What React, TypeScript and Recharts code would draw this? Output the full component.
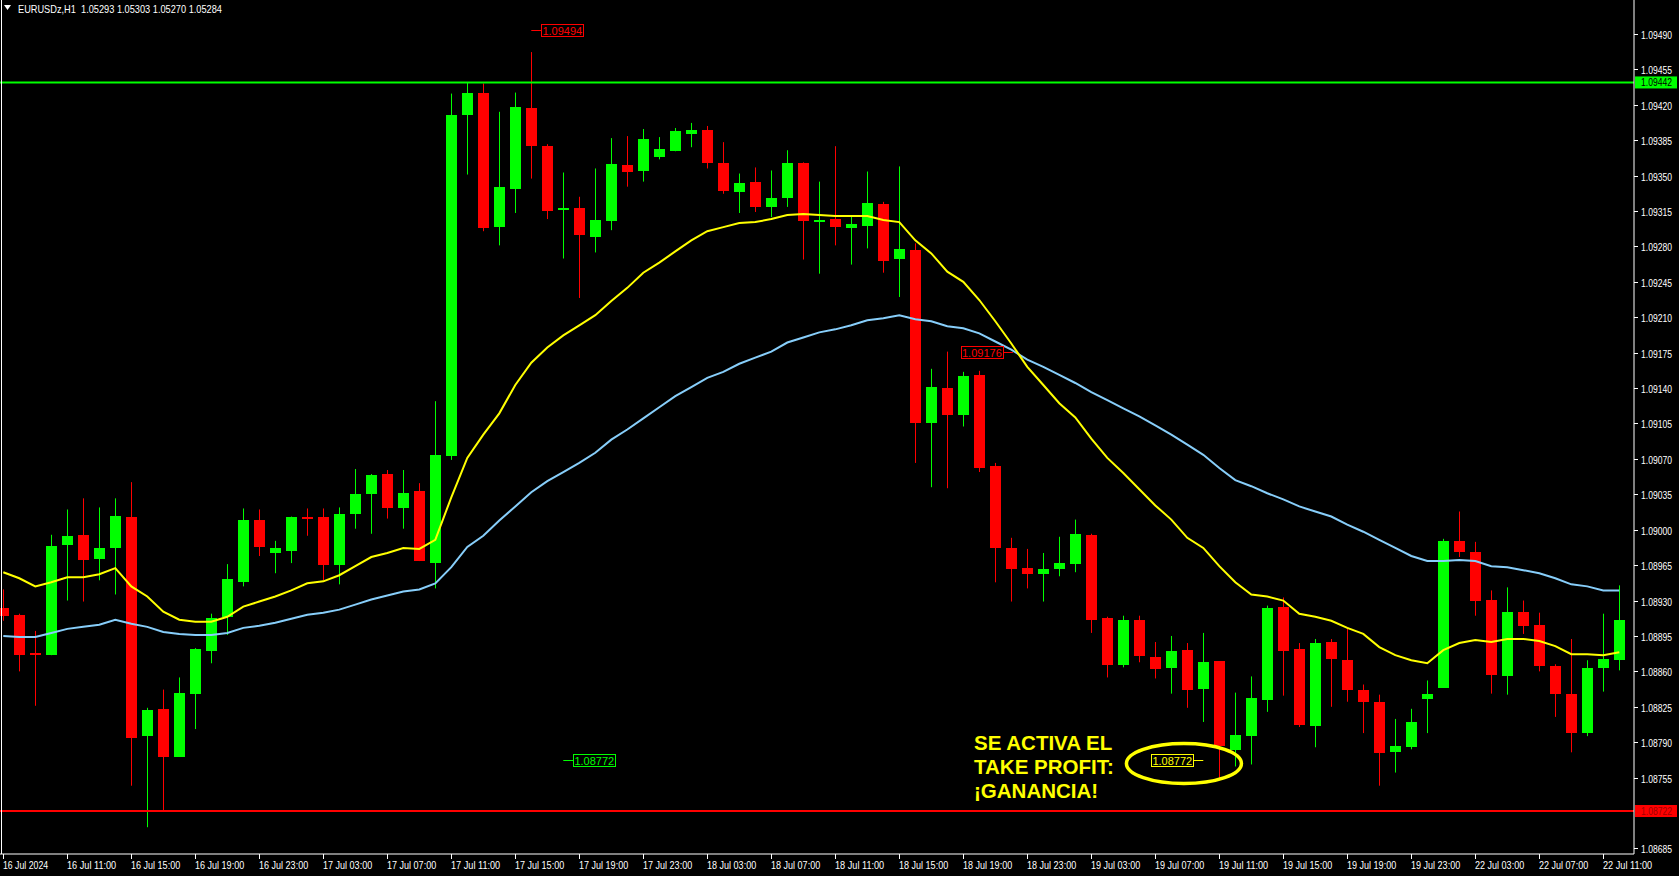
import React from 'react';
import {
  ComposedChart, Bar, Line, XAxis, YAxis, ReferenceLine, ReferenceDot,
} from 'recharts';

const W = 1679;
const H = 876;

// EURUSDz H1, one candle per hour from 16 Jul 07:00 to 22 Jul 12:00
const OPEN = [
  1.08923, 1.08916, 1.08878, 1.08876, 1.08985, 1.08995, 1.08971, 1.08982, 1.09013, 1.08796,
  1.08823, 1.08776, 1.08838, 1.08880, 1.08913, 1.08949, 1.09010, 1.08977, 1.08979, 1.09013,
  1.09013, 1.08966, 1.09015, 1.09035, 1.09055, 1.09021, 1.09038, 1.08967, 1.09073, 1.09410,
  1.09432, 1.09299, 1.09337, 1.09417, 1.09379, 1.09316, 1.09318, 1.09289, 1.09305, 1.09360,
  1.09354, 1.09368, 1.09374, 1.09391, 1.09395, 1.09362, 1.09334, 1.09344, 1.09319, 1.09327,
  1.09362, 1.09304, 1.09307, 1.09298, 1.09300, 1.09322, 1.09267, 1.09276, 1.09105, 1.09140,
  1.09113, 1.09153, 1.09063, 1.08982, 1.08962, 1.08956, 1.08961, 1.08966, 1.08995, 1.08913,
  1.08867, 1.08911, 1.08874, 1.08863, 1.08881, 1.08842, 1.08870, 1.08782, 1.08796, 1.08832,
  1.08924, 1.08882, 1.08806, 1.08889, 1.08871, 1.08842, 1.08830, 1.08780, 1.08785, 1.08833,
  1.08844, 1.08989, 1.08978, 1.08931, 1.08856, 1.08919, 1.08906, 1.08865, 1.08838, 1.08799,
  1.08863, 1.08871,
];
const HIGH = [
  1.08941, 1.08917, 1.08900, 1.08995, 1.09020, 1.09031, 1.09022, 1.09031, 1.09047, 1.08824,
  1.08842, 1.08854, 1.08883, 1.08917, 1.08966, 1.09021, 1.09020, 1.08989, 1.09013, 1.09021,
  1.09021, 1.09022, 1.09060, 1.09055, 1.09059, 1.09059, 1.09046, 1.09127, 1.09431, 1.09442,
  1.09441, 1.09413, 1.09432, 1.09472, 1.09381, 1.09353, 1.09329, 1.09357, 1.09387, 1.09389,
  1.09396, 1.09388, 1.09397, 1.09402, 1.09399, 1.09383, 1.09352, 1.09358, 1.09355, 1.09375,
  1.09363, 1.09344, 1.09379, 1.09309, 1.09354, 1.09324, 1.09359, 1.09283, 1.09159, 1.09176,
  1.09156, 1.09157, 1.09066, 1.08992, 1.08981, 1.08977, 1.08993, 1.09010, 1.08996, 1.08914,
  1.08915, 1.08915, 1.08889, 1.08895, 1.08888, 1.08898, 1.08870, 1.08839, 1.08855, 1.08925,
  1.08933, 1.08888, 1.08892, 1.08892, 1.08902, 1.08847, 1.08837, 1.08813, 1.08823, 1.08851,
  1.08991, 1.09018, 1.08988, 1.08940, 1.08943, 1.08930, 1.08918, 1.08867, 1.08892, 1.08871,
  1.08917, 1.08945,
];
const LOW = [
  1.08910, 1.08860, 1.08826, 1.08876, 1.08930, 1.08929, 1.08950, 1.08936, 1.08747, 1.08706,
  1.08721, 1.08776, 1.08803, 1.08868, 1.08896, 1.08944, 1.08974, 1.08957, 1.08967, 1.08994,
  1.08950, 1.08946, 1.09001, 1.08996, 1.09011, 1.09001, 1.08969, 1.08942, 1.09069, 1.09351,
  1.09295, 1.09281, 1.09313, 1.09347, 1.09307, 1.09268, 1.09229, 1.09274, 1.09296, 1.09339,
  1.09344, 1.09366, 1.09374, 1.09378, 1.09357, 1.09332, 1.09313, 1.09314, 1.09309, 1.09319,
  1.09267, 1.09253, 1.09281, 1.09262, 1.09278, 1.09254, 1.09230, 1.09066, 1.09042, 1.09041,
  1.09102, 1.09057, 1.08948, 1.08929, 1.08942, 1.08929, 1.08954, 1.08958, 1.08898, 1.08854,
  1.08864, 1.08869, 1.08853, 1.08838, 1.08824, 1.08810, 1.08754, 1.08766, 1.08768, 1.08820,
  1.08836, 1.08805, 1.08785, 1.08825, 1.08830, 1.08799, 1.08747, 1.08760, 1.08783, 1.08799,
  1.08844, 1.08973, 1.08915, 1.08838, 1.08837, 1.08897, 1.08860, 1.08815, 1.08780, 1.08796,
  1.08840, 1.08861,
];
const CLOSE = [
  1.08915, 1.08876, 1.08876, 1.08984, 1.08994, 1.08970, 1.08982, 1.09014, 1.08795, 1.08822,
  1.08776, 1.08839, 1.08882, 1.08913, 1.08951, 1.09010, 1.08983, 1.08982, 1.09013, 1.09011,
  1.08966, 1.09016, 1.09035, 1.09054, 1.09021, 1.09036, 1.08969, 1.09074, 1.09410, 1.09432,
  1.09299, 1.09339, 1.09418, 1.09379, 1.09315, 1.09318, 1.09291, 1.09306, 1.09361, 1.09353,
  1.09386, 1.09376, 1.09394, 1.09395, 1.09362, 1.09334, 1.09343, 1.09319, 1.09328, 1.09362,
  1.09305, 1.09306, 1.09299, 1.09302, 1.09323, 1.09266, 1.09277, 1.09105, 1.09141, 1.09113,
  1.09152, 1.09061, 1.08982, 1.08961, 1.08956, 1.08961, 1.08967, 1.08996, 1.08911, 1.08867,
  1.08911, 1.08875, 1.08862, 1.08880, 1.08841, 1.08869, 1.08786, 1.08797, 1.08834, 1.08923,
  1.08881, 1.08807, 1.08888, 1.08872, 1.08841, 1.08830, 1.08780, 1.08786, 1.08810, 1.08838,
  1.08989, 1.08978, 1.08930, 1.08857, 1.08919, 1.08905, 1.08865, 1.08837, 1.08799, 1.08863,
  1.08872, 1.08911,
];

// moving averages (yellow = fast, light blue = slow)
const MA_FAST = [
  1.08958, 1.08952, 1.08944, 1.08948, 1.08953, 1.08953, 1.08956, 1.08962, 1.08944, 1.08934,
  1.08919, 1.08911, 1.08909, 1.08909, 1.08914, 1.08924, 1.08929, 1.08934, 1.08940, 1.08947,
  1.08949, 1.08955, 1.08964, 1.08973, 1.08977, 1.08982, 1.08981, 1.08990, 1.09032, 1.09071,
  1.09094, 1.09115, 1.09143, 1.09165, 1.09180, 1.09192, 1.09202, 1.09212, 1.09226, 1.09239,
  1.09254, 1.09264, 1.09275, 1.09286, 1.09295, 1.09299, 1.09303, 1.09304, 1.09307, 1.09311,
  1.09312, 1.09311, 1.09310, 1.09310, 1.09310, 1.09306, 1.09304, 1.09286, 1.09273, 1.09255,
  1.09245, 1.09227, 1.09206, 1.09184, 1.09161, 1.09143, 1.09125, 1.09111, 1.09090, 1.09071,
  1.09056, 1.09040, 1.09024, 1.09010, 1.08992, 1.08982, 1.08964, 1.08948, 1.08936, 1.08934,
  1.08930, 1.08917, 1.08914, 1.08910, 1.08903, 1.08897, 1.08884, 1.08876, 1.08871, 1.08868,
  1.08881, 1.08888, 1.08891, 1.08889, 1.08892, 1.08892, 1.08890, 1.08885, 1.08877, 1.08877,
  1.08876, 1.08879,
];
const MA_SLOW = [
  1.08895, 1.08894, 1.08894, 1.08898, 1.08902, 1.08904, 1.08906, 1.08911, 1.08907, 1.08904,
  1.08899, 1.08897, 1.08896, 1.08896, 1.08898, 1.08903, 1.08905, 1.08908, 1.08912, 1.08916,
  1.08918, 1.08921, 1.08926, 1.08931, 1.08935, 1.08939, 1.08941, 1.08947, 1.08963, 1.08983,
  1.08994, 1.09009, 1.09023, 1.09037, 1.09048, 1.09057, 1.09066, 1.09076, 1.09089, 1.09099,
  1.09110, 1.09121, 1.09132, 1.09141, 1.09150, 1.09156, 1.09164, 1.09170, 1.09176, 1.09185,
  1.09190, 1.09195, 1.09198, 1.09202, 1.09207, 1.09209, 1.09212, 1.09208, 1.09206, 1.09201,
  1.09199, 1.09194, 1.09186, 1.09178, 1.09168, 1.09161, 1.09153, 1.09145, 1.09136, 1.09128,
  1.09120, 1.09112, 1.09103, 1.09094, 1.09084, 1.09074, 1.09061, 1.09049, 1.09043, 1.09036,
  1.09030, 1.09023, 1.09018, 1.09013, 1.09005, 1.08998, 1.08990, 1.08982, 1.08974, 1.08969,
  1.08969, 1.08970, 1.08969, 1.08964, 1.08963, 1.08960, 1.08957, 1.08952, 1.08946, 1.08944,
  1.08940, 1.08940,
];

// one label every 4 bars
const TIME_LABELS = [
  '16 Jul 2024', '16 Jul 11:00', '16 Jul 15:00', '16 Jul 19:00', '16 Jul 23:00',
  '17 Jul 03:00', '17 Jul 07:00', '17 Jul 11:00', '17 Jul 15:00', '17 Jul 19:00', '17 Jul 23:00',
  '18 Jul 03:00', '18 Jul 07:00', '18 Jul 11:00', '18 Jul 15:00', '18 Jul 19:00', '18 Jul 23:00',
  '19 Jul 03:00', '19 Jul 07:00', '19 Jul 11:00', '19 Jul 15:00', '19 Jul 19:00', '19 Jul 23:00',
  '22 Jul 03:00', '22 Jul 07:00', '22 Jul 11:00',
];
const TIME_TICKS = TIME_LABELS.map((_, i) => i * 4);

const PRICE_TICKS = [
  1.09490, 1.09455, 1.09420, 1.09385, 1.09350, 1.09315, 1.09280, 1.09245, 1.09210, 1.09175,
  1.09140, 1.09105, 1.09070, 1.09035, 1.09000, 1.08965, 1.08930, 1.08895, 1.08860, 1.08825,
  1.08790, 1.08755, 1.08685,
];

const LEVEL_GREEN = 1.09442;
const LEVEL_RED = 1.08722;

// price tags placed on the chart: [bar, price, text, colour, side of the tag]
const TAGS: [number, number, string, string, 'left' | 'right'][] = [
  [33, 1.09494, '1.09494', '#ff0000', 'right'],
  [63.1, 1.09176, '1.09176', '#ff0000', 'left'],
  [35, 1.08772, '1.08772', '#00ff00', 'right'],
  [75, 1.08772, '1.08772', '#ffff00', 'left'],
];

const NOTE_LINES = ['SE ACTIVA EL', 'TAKE PROFIT:', '¡GANANCIA!'];
const NOTE_AT = { bar: 60.67, price: 1.08782 };
const RING_AT = { bar: 73.79, price: 1.08769 };

const HEADER = 'EURUSDz,H1  1.05293 1.05303 1.05270 1.05284';

const X_DOMAIN: [number, number] = [-0.206, 101.919];
const Y_DOMAIN: [number, number] = [1.0867952, 1.0952348];

// the terminal font is narrow; squeeze the glyphs to the widths it uses
const AXIS_FONT = "'Liberation Sans', Arial, sans-serif";
const TAG_FONT = "'Liberation Sans', Arial, sans-serif";

const rows = OPEN.map((open, i) => ({
  i,
  open,
  high: HIGH[i],
  low: LOW[i],
  close: CLOSE[i],
  fast: MA_FAST[i],
  slow: MA_SLOW[i],
}));

const Candle = (props: any) => {
  const { x, y, width, height, payload } = props;
  if (!payload || height == null) return null;
  const { open, close, high, low } = payload;
  const k = height / (high - low);
  const cx = Math.round(x + width / 2) + 0.5;
  const color = close >= open ? '#00ff00' : '#ff0000';
  const yo = y + (high - open) * k;
  const yc = y + (high - close) * k;
  const top = Math.round(Math.min(yo, yc));
  const h = Math.max(Math.round(Math.abs(yo - yc)), 2);
  return (
    <g>
      <line x1={cx} x2={cx} y1={y} y2={y + height} stroke={color} strokeWidth={1} />
      <rect x={cx - 5.5} y={top} width={11} height={h} fill={color} />
    </g>
  );
};

const PriceTick = ({ x, y, payload }: any) => {
  const yy = Math.round(y) + 0.5;
  return (
    <g>
      <line x1={x} x2={x + 4} y1={yy} y2={yy} stroke="#fff" />
      <text
        x={x + 7}
        y={yy + 4}
        fill="#fff"
        fontSize={10.5}
        fontFamily={AXIS_FONT}
        textLength={31}
        lengthAdjust="spacingAndGlyphs"
      >
        {Number(payload.value).toFixed(5)}
      </text>
    </g>
  );
};

const TimeTick = ({ x, y, payload }: any) => {
  const xx = Math.round(x) + 0.5;
  const label = TIME_LABELS[Math.round(payload.value / 4)] || '';
  return (
    <g>
      <line x1={xx} x2={xx} y1={y} y2={y + 5} stroke="#fff" />
      <text
        x={xx - 0.5}
        y={y + 14.5}
        fill="#fff"
        fontSize={10.5}
        fontFamily={AXIS_FONT}
        textLength={label.length * 4.1}
        lengthAdjust="spacingAndGlyphs"
      >
        {label}
      </text>
    </g>
  );
};

const Tag = ({ cx, cy, text, color, side }: any) => {
  const boxW = 42;
  const boxH = 12;
  const lead = 10;
  const y = Math.round(cy) + 0.5;
  const end = side === 'right' ? cx + lead : cx - lead;
  const bx = side === 'right' ? end : end - boxW;
  return (
    <g>
      <line x1={cx} x2={end} y1={y} y2={y} stroke={color} />
      <rect x={Math.round(bx) + 0.5} y={y - boxH / 2} width={boxW} height={boxH} fill="#000" stroke={color} />
      <text x={bx + boxW / 2} y={y + 4} textAnchor="middle" fill={color} fontSize={11} fontFamily={TAG_FONT}>
        {text}
      </text>
    </g>
  );
};

const AxisBox = ({ cx, cy, text, bg, fg }: any) => (
  <g>
    <rect x={cx + 1} y={cy - 6} width={42} height={12} fill={bg} />
    <text
      x={cx + 7}
      y={cy + 4}
      fill={fg}
      fontSize={10.5}
      fontFamily={AXIS_FONT}
      textLength={31}
      lengthAdjust="spacingAndGlyphs"
    >
      {text}
    </text>
  </g>
);

const Note = ({ cx, cy }: any) => (
  <text fill="#ffff00" fontSize={20.5} fontWeight="bold" fontFamily={TAG_FONT}>
    {NOTE_LINES.map((t, i) => (
      <tspan key={t} x={cx} y={cy + i * 23.6}>{t}</tspan>
    ))}
  </text>
);

const Ring = ({ cx, cy }: any) => (
  <ellipse cx={cx} cy={cy} rx={57.5} ry={20} fill="none" stroke="#ffff00" strokeWidth={3.5} />
);

export default function App() {
  return (
    <div style={{ position: 'absolute', left: 0, top: 0, width: W, height: H, background: '#000', overflow: 'hidden' }}>
      <ComposedChart width={W} height={H} data={rows} margin={{ top: 0, right: 0, bottom: 0, left: 0 }}>
        <XAxis
          dataKey="i"
          type="number"
          domain={X_DOMAIN}
          allowDataOverflow
          ticks={TIME_TICKS}
          interval={0}
          height={22}
          tickSize={0}
          tickMargin={0}
          tick={<TimeTick />}
          axisLine={{ stroke: '#fff' }}
          tickLine={false}
        />
        <YAxis
          orientation="right"
          type="number"
          domain={Y_DOMAIN}
          allowDataOverflow
          ticks={PRICE_TICKS}
          interval={0}
          width={45}
          tickSize={0}
          tickMargin={0}
          tick={<PriceTick />}
          axisLine={{ stroke: '#fff' }}
          tickLine={false}
        />
        <ReferenceLine y={LEVEL_GREEN} stroke="#00ff00" strokeWidth={2} />
        <ReferenceLine y={LEVEL_RED} stroke="#ff0000" strokeWidth={2} />
        <Bar
          dataKey={(d: any) => [d.low, d.high]}
          barSize={11}
          shape={<Candle />}
          isAnimationActive={false}
        />
        <Line type="linear" dataKey="slow" stroke="#87cefa" strokeWidth={2} dot={false} activeDot={false} isAnimationActive={false} />
        <Line type="linear" dataKey="fast" stroke="#ffff00" strokeWidth={2} dot={false} activeDot={false} isAnimationActive={false} />
        {TAGS.map(([bar, price, text, color, side], idx) => (
          <ReferenceDot
            key={idx}
            x={bar}
            y={price}
            ifOverflow="visible"
            shape={(p: any) => <Tag cx={p.cx} cy={p.cy} text={text} color={color} side={side} />}
          />
        ))}
        <ReferenceDot
          x={RING_AT.bar}
          y={RING_AT.price}
          ifOverflow="visible"
          shape={(p: any) => <Ring cx={p.cx} cy={p.cy} />}
        />
        <ReferenceDot
          x={NOTE_AT.bar}
          y={NOTE_AT.price}
          ifOverflow="visible"
          shape={(p: any) => <Note cx={p.cx} cy={p.cy} />}
        />
        <ReferenceDot
          x={X_DOMAIN[1]}
          y={LEVEL_GREEN}
          ifOverflow="visible"
          shape={(p: any) => <AxisBox cx={p.cx} cy={p.cy} text="1.09442" bg="#00ff00" fg="#000" />}
        />
        <ReferenceDot
          x={X_DOMAIN[1]}
          y={LEVEL_RED}
          ifOverflow="visible"
          shape={(p: any) => <AxisBox cx={p.cx} cy={p.cy} text="1.08722" bg="#ff0000" fg="#a00000" />}
        />
      </ComposedChart>
      <div style={{ position: 'absolute', left: 1, top: 0, width: 1, height: 854, background: '#fff' }} />
      <svg width={260} height={20} style={{ position: 'absolute', left: 0, top: 0 }}>
        <polygon points="4,5 11,5 7.5,10" fill="#fff" />
        <text
          x={18}
          y={13}
          fill="#fff"
          fontSize={10.5}
          fontFamily={AXIS_FONT}
          textLength={204}
          lengthAdjust="spacingAndGlyphs"
          style={{ whiteSpace: 'pre' }}
        >
          {HEADER}
        </text>
      </svg>
    </div>
  );
}
